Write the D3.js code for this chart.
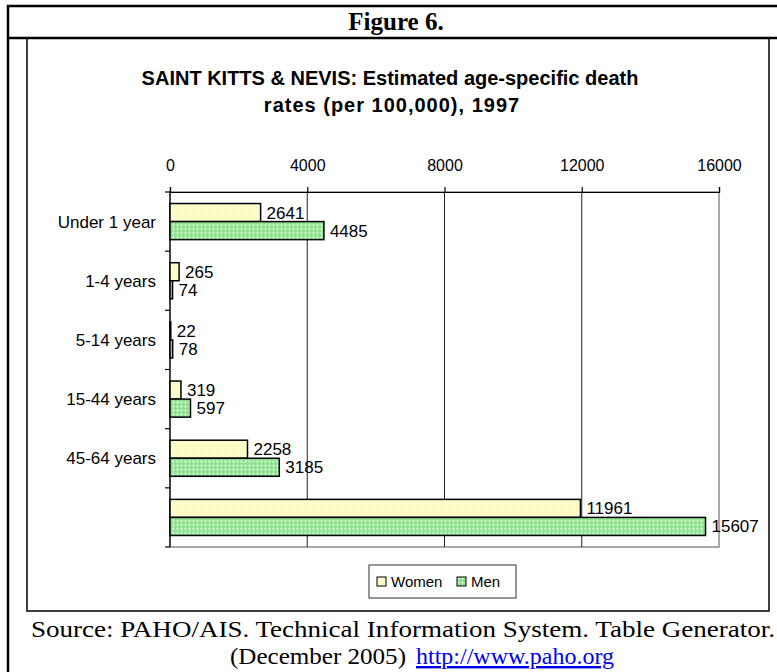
<!DOCTYPE html>
<html>
<head>
<meta charset="utf-8">
<script src="https://cdn.jsdelivr.net/npm/d3@7"></script>
<style>
  body { margin: 0; background: #fff; }
  svg { display: block; }
</style>
</head>
<body>
<div id="outlet"></div>
<script>
// data
const categories = ["Under 1 year", "1-4 years", "5-14 years", "15-44 years", "45-64 years", ""];
const series = ["Women", "Men"];
const women = [2641, 265, 22, 319, 2258, 11961];
const men = [4485, 74, 78, 597, 3185, 15607];
const xTicks = [0, 4000, 8000, 12000, 16000];

const width = 777, height = 672;
const plot = { left: 170, right: 719, top: 192, bottom: 547 };
const fontSans = "'Liberation Sans', Arial, sans-serif";
const fontSerif = "'Liberation Serif', 'Times New Roman', serif";

const svg = d3.select("#outlet")
  .append("svg")
  .attr("width", width)
  .attr("height", height)
  .attr("viewBox", [0, 0, width, height]);

// fill patterns (Excel-ish textures)
const defs = svg.append("defs");
const pw = defs.append("pattern").attr("id", "pWomen")
  .attr("width", 4).attr("height", 4).attr("patternUnits", "userSpaceOnUse");
pw.append("rect").attr("width", 4).attr("height", 4).attr("fill", "#ffffcc");
pw.append("rect").attr("x", 0).attr("y", 0).attr("width", 1).attr("height", 1).attr("fill", "#ececb4");
pw.append("rect").attr("x", 2).attr("y", 2).attr("width", 1).attr("height", 1).attr("fill", "#ececb4");

const pm = defs.append("pattern").attr("id", "pMen")
  .attr("width", 4).attr("height", 4).attr("patternUnits", "userSpaceOnUse");
pm.append("rect").attr("width", 4).attr("height", 4).attr("fill", "#8fdf8f");
pm.append("rect").attr("x", 1).attr("y", 0).attr("width", 1).attr("height", 1).attr("fill", "#ccf5cc");
pm.append("rect").attr("x", 0).attr("y", 1).attr("width", 3).attr("height", 1).attr("fill", "#ccf5cc");
pm.append("rect").attr("x", 1).attr("y", 2).attr("width", 1).attr("height", 1).attr("fill", "#ccf5cc");

const fills = { Women: "url(#pWomen)", Men: "url(#pMen)" };

// frames
svg.append("rect")
  .attr("x", 8).attr("y", 6).attr("width", 790).attr("height", 700)
  .attr("fill", "none").attr("stroke", "#000").attr("stroke-width", 2.5);
svg.append("line")
  .attr("x1", 8).attr("x2", 790).attr("y1", 38).attr("y2", 38)
  .attr("stroke", "#000").attr("stroke-width", 2.5);
svg.append("rect")
  .attr("x", 27).attr("y", 38).attr("width", 742).attr("height", 573)
  .attr("fill", "none").attr("stroke", "#000").attr("stroke-width", 1.5);

svg.append("text")
  .attr("x", 396).attr("y", 30)
  .attr("text-anchor", "middle")
  .attr("font-family", fontSerif)
  .attr("font-weight", "bold")
  .attr("font-size", 25)
  .text("Figure 6.");

// chart title
const title = svg.append("text")
  .attr("text-anchor", "middle")
  .attr("font-family", fontSans)
  .attr("font-weight", "bold")
  .attr("font-size", 20);
title.append("tspan").attr("x", 390).attr("y", 85).text("SAINT KITTS & NEVIS: Estimated age-specific death");
title.append("tspan").attr("x", 392).attr("y", 112).attr("letter-spacing", 1).text("rates (per 100,000), 1997");

// scales
const x = d3.scaleLinear().domain([0, 16000]).range([plot.left, plot.right]);
const yb = d3.scaleBand().domain(categories).range([plot.top, plot.bottom]);
const y = d3.scaleBand().domain(categories).range([plot.top, plot.bottom])
  .paddingInner(0.39).paddingOuter(0.195);
const ys = d3.scaleBand().domain(series).range([0, y.bandwidth()]);

// plot border + gridlines
svg.append("rect")
  .attr("x", plot.left).attr("y", plot.top)
  .attr("width", plot.right - plot.left).attr("height", plot.bottom - plot.top)
  .attr("fill", "none").attr("stroke", "#8c8c8c").attr("stroke-width", 1.5);
svg.append("g")
  .selectAll("line")
  .data(xTicks.slice(1, -1))
  .join("line")
  .attr("x1", d => x(d)).attr("x2", d => x(d))
  .attr("y1", plot.top).attr("y2", plot.bottom)
  .attr("stroke", "#222").attr("stroke-width", 1);

// top axis
svg.append("g")
  .attr("transform", `translate(0,${plot.top})`)
  .call(d3.axisTop(x).tickValues(xTicks).tickFormat(d3.format("d")).tickSize(5).tickPadding(16))
  .call(g => g.selectAll("path, line").attr("stroke", "#000").attr("stroke-width", 1.2))
  .call(g => g.selectAll("text").attr("font-family", fontSans).attr("font-size", 16).attr("fill", "#000"));

// left axis with ticks at band boundaries
const left = svg.append("g");
left.append("line")
  .attr("x1", plot.left).attr("x2", plot.left)
  .attr("y1", plot.top).attr("y2", plot.bottom)
  .attr("stroke", "#000").attr("stroke-width", 1.2);
left.selectAll("line.tick")
  .data(categories.map(c => yb(c)).concat([plot.bottom]))
  .join("line")
  .attr("class", "tick")
  .attr("x1", plot.left - 5).attr("x2", plot.left)
  .attr("y1", d => d).attr("y2", d => d)
  .attr("stroke", "#000").attr("stroke-width", 1.2);
left.selectAll("text")
  .data(categories)
  .join("text")
  .attr("x", plot.left - 14)
  .attr("y", d => yb(d) + yb.bandwidth() / 2)
  .attr("dy", "0.35em")
  .attr("text-anchor", "end")
  .attr("font-family", fontSans)
  .attr("font-size", 17)
  .text(d => d);

// bars
const rows = categories.map((c, i) => ({ cat: c, Women: women[i], Men: men[i] }));
const grp = svg.append("g")
  .selectAll("g")
  .data(rows)
  .join("g")
  .attr("transform", d => `translate(0,${y(d.cat)})`);

grp.selectAll("rect")
  .data(d => series.map(s => ({ s, v: d[s] })))
  .join("rect")
  .attr("x", x(0))
  .attr("y", d => ys(d.s))
  .attr("width", d => x(d.v) - x(0))
  .attr("height", ys.bandwidth())
  .attr("fill", d => fills[d.s])
  .attr("stroke", "#000")
  .attr("stroke-width", 1.5);

grp.selectAll("text")
  .data(d => series.map(s => ({ s, v: d[s] })))
  .join("text")
  .attr("x", d => x(d.v) + 6)
  .attr("y", d => ys(d.s) + ys.bandwidth() / 2)
  .attr("dy", "0.35em")
  .attr("font-family", fontSans)
  .attr("font-size", 17)
  .text(d => d.v);

// legend
const lg = svg.append("g").attr("transform", "translate(369,565)");
lg.append("rect")
  .attr("width", 147).attr("height", 33)
  .attr("fill", "#fff").attr("stroke", "#333").attr("stroke-width", 1);
const legendX = [8, 88];
series.forEach((s, i) => {
  lg.append("rect")
    .attr("x", legendX[i]).attr("y", 12)
    .attr("width", 9).attr("height", 9)
    .attr("fill", fills[s]).attr("stroke", "#000").attr("stroke-width", 1);
  lg.append("text")
    .attr("x", legendX[i] + 14).attr("y", 17)
    .attr("dy", "0.35em")
    .attr("font-family", fontSans)
    .attr("font-size", 15)
    .text(s);
});

// source note
svg.append("text")
  .attr("x", 31).attr("y", 637)
  .attr("font-family", fontSerif)
  .attr("font-size", 24)
  .attr("textLength", 744)
  .attr("lengthAdjust", "spacingAndGlyphs")
  .text("Source: PAHO/AIS. Technical Information System. Table Generator.");
const l2 = svg.append("text")
  .attr("y", 664)
  .attr("font-family", fontSerif)
  .attr("font-size", 24);
l2.append("tspan").attr("x", 230).attr("textLength", 176).attr("lengthAdjust", "spacingAndGlyphs").text("(December 2005)");
l2.append("tspan").attr("x", 416).attr("fill", "#0000ee").attr("text-decoration", "underline").text("http://www.paho.org");
</script>
</body>
</html>
